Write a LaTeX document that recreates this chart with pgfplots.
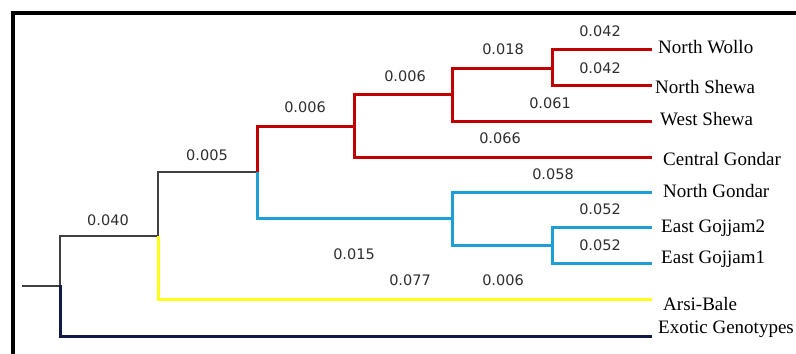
\documentclass[border=0pt]{standalone}
\usepackage{fontspec}
\setmainfont{Liberation Serif}
\newfontfamily\numfont{DejaVu Sans}
\usepackage{pgfplots}
\pgfplotsset{compat=1.18}
\definecolor{cred}{HTML}{C00000}
\definecolor{ccyan}{HTML}{1E9ED6}
\definecolor{cyel}{HTML}{FFFF1A}
\definecolor{cnavy}{HTML}{101A45}
\definecolor{cblk}{HTML}{404040}
\definecolor{ctxt}{HTML}{2E2E2E}
\tikzset{
  num/.style={font=\numfont\fontsize{14.5bp}{17bp}\selectfont, text=ctxt, anchor=center, inner sep=0pt},
  leaf/.style={font=\fontsize{19bp}{22bp}\selectfont, text=black, anchor=base west, inner sep=0pt},
}
\begin{document}
\begin{tikzpicture}
\begin{axis}[
  scale only axis, width=796bp, height=354bp,
  xmin=0, xmax=796, ymin=0, ymax=354, y dir=reverse,
  axis lines=none, clip=false,
  every axis plot/.append style={line cap=rect, line join=miter},
]
% frame
\addplot[black, line width=3.5bp, line cap=butt] coordinates {(13,354) (13,13) (796,13)};
% black
\addplot[cblk, line width=2bp] coordinates {(23,286) (60,286)};
\addplot[cblk, line width=2bp] coordinates {(60,286) (60,236) (158,236) (158,172) (257,172)};
% navy
\addplot[cnavy, line width=3bp] coordinates {(60,286) (60,336) (650,336)};
% yellow
\addplot[cyel, line width=3bp] coordinates {(158,237) (158,299) (650,299)};
% red
\addplot[cred, line width=3bp] coordinates {(257,171) (257,126) (354,126)};
\addplot[cred, line width=3bp] coordinates {(650,157) (354,157) (354,94) (452,94)};
\addplot[cred, line width=3bp] coordinates {(650,121) (452,121) (452,68) (552,68)};
\addplot[cred, line width=3bp] coordinates {(650,85) (552,85) (552,50) (650,50)};
% cyan
\addplot[ccyan, line width=3bp] coordinates {(257,173) (257,218) (452,218)};
\addplot[ccyan, line width=3bp] coordinates {(650,192) (452,192) (452,245) (552,245)};
\addplot[ccyan, line width=3bp] coordinates {(650,227) (552,227) (552,263) (650,263)};
% branch lengths
\node[num] at (axis cs:108,220) {0.040};
\node[num] at (axis cs:207,155) {0.005};
\node[num] at (axis cs:305,107) {0.006};
\node[num] at (axis cs:405,76) {0.006};
\node[num] at (axis cs:503,49) {0.018};
\node[num] at (axis cs:600,31) {0.042};
\node[num] at (axis cs:600,68) {0.042};
\node[num] at (axis cs:550,103) {0.061};
\node[num] at (axis cs:500,138) {0.066};
\node[num] at (axis cs:553,174) {0.058};
\node[num] at (axis cs:600,209) {0.052};
\node[num] at (axis cs:600,245) {0.052};
\node[num] at (axis cs:354,254) {0.015};
\node[num] at (axis cs:410,280) {0.077};
\node[num] at (axis cs:503,280) {0.006};
% leaves
\node[leaf] at (axis cs:658,53) {North Wollo};
\node[leaf] at (axis cs:655,93) {North Shewa};
\node[leaf] at (axis cs:660,125) {West Shewa};
\node[leaf] at (axis cs:663,165) {Central Gondar};
\node[leaf] at (axis cs:663,197) {North Gondar};
\node[leaf] at (axis cs:661,232) {East Gojjam2};
\node[leaf] at (axis cs:661,263) {East Gojjam1};
\node[leaf] at (axis cs:663,310) {Arsi-Bale};
\node[leaf] at (axis cs:658,333) {Exotic Genotypes};
\end{axis}
\pgfresetboundingbox
\path (0,0) rectangle (796bp,354bp);
\end{tikzpicture}
\end{document}
